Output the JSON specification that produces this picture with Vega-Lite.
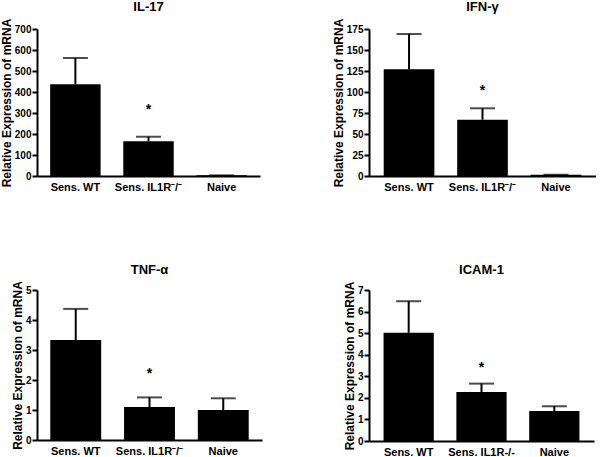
{
  "$schema": "https://vega.github.io/schema/vega-lite/v6.json",
  "padding": {"left": 0, "top": 1, "right": 0, "bottom": 0},
  "background": "white",
  "datasets": {
    "d": [
      {"panel": "IL-17", "group": "Sens. WT", "value": 437, "upper": 562, "star": null},
      {"panel": "IL-17", "group": "Sens. IL1R⁻/⁻", "value": 166, "upper": 187, "star": 329},
      {"panel": "IL-17", "group": "Naive", "value": 3, "upper": 3, "star": null},
      {"panel": "IFN-γ", "group": "Sens. WT", "value": 127, "upper": 169, "star": null},
      {"panel": "IFN-γ", "group": "Sens. IL1R⁻/⁻", "value": 67, "upper": 80.6, "star": 105},
      {"panel": "IFN-γ", "group": "Naive", "value": 1.5, "upper": 1.5, "star": null},
      {"panel": "TNF-α", "group": "Sens. WT", "value": 3.33, "upper": 4.37, "star": null},
      {"panel": "TNF-α", "group": "Sens. IL1R⁻/⁻", "value": 1.1, "upper": 1.42, "star": 2.3},
      {"panel": "TNF-α", "group": "Naive", "value": 1.0, "upper": 1.39, "star": null},
      {"panel": "ICAM-1", "group": "Sens. WT", "value": 5.02, "upper": 6.48, "star": null},
      {"panel": "ICAM-1", "group": "Sens. IL1R-/-", "value": 2.27, "upper": 2.66, "star": 3.52},
      {"panel": "ICAM-1", "group": "Naive", "value": 1.39, "upper": 1.61, "star": null}
    ]
  },
  "config": {
    "view": {"stroke": null},
    "font": "Liberation Sans",
    "axis": {
      "grid": false,
      "domainColor": "black",
      "domainWidth": 2,
      "tickColor": "black",
      "tickWidth": 2,
      "labelColor": "black",
      "titleColor": "black",
      "labelFont": "Liberation Sans",
      "titleFont": "Liberation Sans",
      "labelFontWeight": "bold",
      "titleFontWeight": "bold"
    },
    "axisX": {"ticks": false, "labelAngle": 0, "labelFontSize": 11, "labelPadding": 5},
    "axisY": {"tickSize": 5, "labelFontSize": 10, "labelPadding": 1, "titleFontSize": 12, "titlePadding": 1},
    "title": {"font": "Liberation Sans", "fontSize": 13, "fontWeight": "bold", "color": "black", "offset": 4, "anchor": "middle"},
    "bar": {"color": "black"},
    "rule": {"color": "black", "strokeWidth": 2},
    "tick": {"color": "black", "thickness": 2, "size": 25},
    "text": {"color": "black", "fontSize": 14, "fontWeight": "bold", "baseline": "middle", "dy": 3}
  },
  "columns": 2,
  "spacing": {"row": 71, "column": 70},
  "concat": [
    {
      "title": "IL-17",
      "width": 223, "height": 147,
      "data": {"name": "d"},
      "transform": [{"filter": "datum.panel == 'IL-17'"}],
      "encoding": {
        "x": {"field": "group", "type": "nominal", "sort": null, "title": null, "scale": {"paddingInner": 0.31, "paddingOuter": 0.18}}
      },
      "layer": [
        {"mark": "bar", "encoding": {"y": {"field": "value", "type": "quantitative", "scale": {"domain": [0, 700], "nice": false}, "axis": {"values": [0, 100, 200, 300, 400, 500, 600, 700], "title": "Relative Expression of mRNA"}}}},
        {"mark": "rule", "encoding": {"y": {"field": "value", "type": "quantitative", "axis": {"values": [0, 100, 200, 300, 400, 500, 600, 700], "title": "Relative Expression of mRNA"}}, "y2": {"field": "upper"}}},
        {"mark": "tick", "encoding": {"y": {"field": "upper", "type": "quantitative", "axis": {"values": [0, 100, 200, 300, 400, 500, 600, 700], "title": "Relative Expression of mRNA"}}}},
        {"transform": [{"filter": "datum.star != null"}], "mark": {"type": "text", "text": "*"}, "encoding": {"y": {"field": "star", "type": "quantitative", "axis": {"values": [0, 100, 200, 300, 400, 500, 600, 700], "title": "Relative Expression of mRNA"}}}}
      ]
    },
    {
      "title": "IFN-γ",
      "width": 227, "height": 147,
      "data": {"name": "d"},
      "transform": [{"filter": "datum.panel == 'IFN-γ'"}],
      "encoding": {
        "x": {"field": "group", "type": "nominal", "sort": null, "title": null, "scale": {"paddingInner": 0.31, "paddingOuter": 0.2}}
      },
      "layer": [
        {"mark": "bar", "encoding": {"y": {"field": "value", "type": "quantitative", "scale": {"domain": [0, 175], "nice": false}, "axis": {"values": [0, 25, 50, 75, 100, 125, 150, 175], "title": "Relative Expression of mRNA"}}}},
        {"mark": "rule", "encoding": {"y": {"field": "value", "type": "quantitative", "axis": {"values": [0, 25, 50, 75, 100, 125, 150, 175], "title": "Relative Expression of mRNA"}}, "y2": {"field": "upper"}}},
        {"mark": "tick", "encoding": {"y": {"field": "upper", "type": "quantitative", "axis": {"values": [0, 25, 50, 75, 100, 125, 150, 175], "title": "Relative Expression of mRNA"}}}},
        {"transform": [{"filter": "datum.star != null"}], "mark": {"type": "text", "text": "*"}, "encoding": {"y": {"field": "star", "type": "quantitative", "axis": {"values": [0, 25, 50, 75, 100, 125, 150, 175], "title": "Relative Expression of mRNA"}}}}
      ]
    },
    {
      "title": "TNF-α",
      "width": 225, "height": 150,
      "data": {"name": "d"},
      "transform": [{"filter": "datum.panel == 'TNF-α'"}],
      "encoding": {
        "x": {"field": "group", "type": "nominal", "sort": null, "title": null, "scale": {"paddingInner": 0.31, "paddingOuter": 0.18}}
      },
      "layer": [
        {"mark": "bar", "encoding": {"y": {"field": "value", "type": "quantitative", "scale": {"domain": [0, 5], "nice": false}, "axis": {"values": [0, 1, 2, 3, 4, 5], "title": "Relative Expression of mRNA"}}}},
        {"mark": "rule", "encoding": {"y": {"field": "value", "type": "quantitative", "axis": {"values": [0, 1, 2, 3, 4, 5], "title": "Relative Expression of mRNA"}}, "y2": {"field": "upper"}}},
        {"mark": "tick", "encoding": {"y": {"field": "upper", "type": "quantitative", "axis": {"values": [0, 1, 2, 3, 4, 5], "title": "Relative Expression of mRNA"}}}},
        {"transform": [{"filter": "datum.star != null"}], "mark": {"type": "text", "text": "*"}, "encoding": {"y": {"field": "star", "type": "quantitative", "axis": {"values": [0, 1, 2, 3, 4, 5], "title": "Relative Expression of mRNA"}}}}
      ]
    },
    {
      "title": "ICAM-1",
      "width": 225, "height": 151,
      "data": {"name": "d"},
      "transform": [{"filter": "datum.panel == 'ICAM-1'"}],
      "encoding": {
        "x": {"field": "group", "type": "nominal", "sort": null, "title": null, "scale": {"paddingInner": 0.31, "paddingOuter": 0.2}}
      },
      "layer": [
        {"mark": "bar", "encoding": {"y": {"field": "value", "type": "quantitative", "scale": {"domain": [0, 7], "nice": false}, "axis": {"values": [0, 1, 2, 3, 4, 5, 6, 7], "title": "Relative Expression of mRNA"}}}},
        {"mark": "rule", "encoding": {"y": {"field": "value", "type": "quantitative", "axis": {"values": [0, 1, 2, 3, 4, 5, 6, 7], "title": "Relative Expression of mRNA"}}, "y2": {"field": "upper"}}},
        {"mark": "tick", "encoding": {"y": {"field": "upper", "type": "quantitative", "axis": {"values": [0, 1, 2, 3, 4, 5, 6, 7], "title": "Relative Expression of mRNA"}}}},
        {"transform": [{"filter": "datum.star != null"}], "mark": {"type": "text", "text": "*"}, "encoding": {"y": {"field": "star", "type": "quantitative", "axis": {"values": [0, 1, 2, 3, 4, 5, 6, 7], "title": "Relative Expression of mRNA"}}}}
      ]
    }
  ]
}
